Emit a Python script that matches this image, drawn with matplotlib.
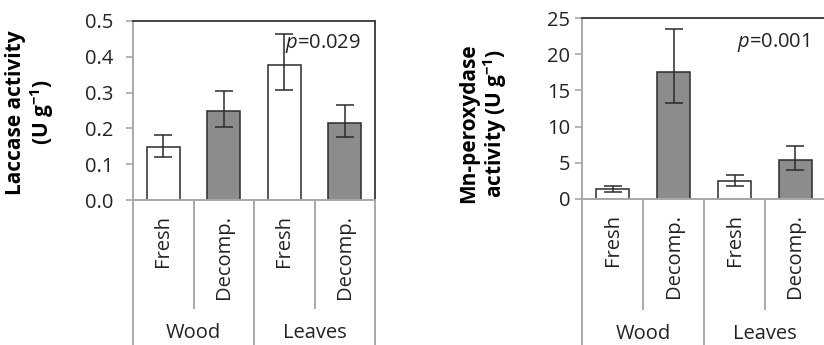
import matplotlib
matplotlib.use("Agg")
import matplotlib.pyplot as plt
import matplotlib.transforms as mtransforms
import numpy as np

plt.rcParams['font.family'] = ['Open Sans', 'DejaVu Sans']
plt.rcParams['mathtext.fontset'] = 'custom'
plt.rcParams['mathtext.it'] = 'Open Sans:italic'
plt.rcParams['mathtext.rm'] = 'Open Sans'
plt.rcParams['mathtext.bf'] = 'Open Sans:bold'

categories = ["Fresh", "Decomp.", "Fresh", "Decomp."]
groups = ["Wood", "Leaves"]
fill_colors = ["white", "#8c8c8c", "white", "#8c8c8c"]

# laccase activity (U g-1)
laccase = [0.149, 0.248, 0.376, 0.215]
laccase_lo = [0.028, 0.045, 0.069, 0.039]
laccase_hi = [0.032, 0.057, 0.087, 0.049]

# Mn-peroxydase activity (U g-1)
mnp = [1.38, 17.6, 2.49, 5.43]
mnp_lo = [0.46, 4.35, 0.65, 1.38]
mnp_hi = [0.37, 5.85, 0.87, 1.84]

GRID = "#a8a8a8"
DARK = "#2b2b2b"
FS = 14.5


def panel(ax, vals, lo, hi, yticks, ticklabels, ylabel, ptext, ptext_x, ptext_y, pad):
    x = np.arange(len(vals))
    ax.bar(x, vals, width=0.55, color=fill_colors, edgecolor=DARK, linewidth=1.1, zorder=2)
    ax.errorbar(x, vals, yerr=[lo, hi], fmt="none", ecolor=DARK, elinewidth=1.1,
                capsize=6.8, capthick=1.1, zorder=3)
    ax.set_xlim(-0.5, 3.5)
    ax.set_ylim(yticks[0], yticks[-1])
    ax.set_yticks(yticks)
    ax.set_yticklabels(ticklabels, fontsize=FS, color="#222222")
    ax.set_xticks([])
    ax.tick_params(axis="y", direction="out", length=5, width=1.2, color=GRID, pad=pad)
    for s in ["left", "bottom"]:
        ax.spines[s].set_color(GRID)
        ax.spines[s].set_linewidth(1.4)
    for s in ["top", "right"]:
        ax.spines[s].set_color("#444444")
        ax.spines[s].set_linewidth(1.4)
    ax.set_ylabel(ylabel, fontsize=15, fontweight="bold", linespacing=1.1)

    # category / group separators below the axis
    trans = mtransforms.blended_transform_factory(ax.transData, ax.transAxes)
    for xs in [-0.5, 1.5, 3.5]:
        ax.plot([xs, xs], [0, -1.0], transform=trans, color=GRID, lw=1.4, clip_on=False)
    for xs in [0.5, 2.5]:
        ax.plot([xs, xs], [0, -0.605], transform=trans, color=GRID, lw=1.4, clip_on=False)
    for xi, c in zip(x, categories):
        ax.text(xi, -0.085, c, transform=trans, rotation=90, ha="center", va="top",
                fontsize=FS, color="#222222")
    for gi, g in enumerate(groups):
        ax.text(2 * gi + 0.5, -0.745, g, transform=trans, ha="center", va="center",
                fontsize=FS, color="#222222")
    ax.text(ptext_x, ptext_y, ptext, transform=trans, ha="left", va="center",
            fontsize=FS, color="#222222")


fig = plt.figure(figsize=(8.24, 3.45), dpi=100)
ax1 = fig.add_axes([133 / 824, 145 / 345, 242 / 824, 179 / 345])
ax2 = fig.add_axes([582 / 824, 146 / 345, 244 / 824, 181 / 345])

panel(ax1, laccase, laccase_lo, laccase_hi,
      [0.0, 0.1, 0.2, 0.3, 0.4, 0.5], ["0.0", "0.1", "0.2", "0.3", "0.4", "0.5"],
      "Laccase activity\n(U g$^{\\mathbf{-1}}$)", "$\\it{p}$=0.029", 2.01, 0.877, 9.0)
panel(ax2, mnp, mnp_lo, mnp_hi,
      [0, 5, 10, 15, 20, 25], ["0", "5", "10", "15", "20", "25"],
      "Mn-peroxydase\nactivity (U g$^{\\mathbf{-1}}$)", "$\\it{p}$=0.001", 2.04, 0.862, 3.6)

ax1.yaxis.set_label_coords(-0.32, 0.49)
ax2.yaxis.set_label_coords(-0.30, 0.42)

fig.savefig("out.png", dpi=100)
